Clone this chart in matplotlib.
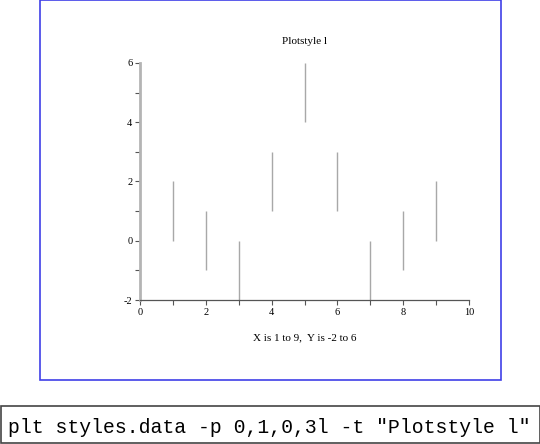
import matplotlib
matplotlib.use("Agg")
import matplotlib.pyplot as plt
import matplotlib.patches as patches

plt.rcParams["axes.unicode_minus"] = False

# data: each x has a vertical segment from y_low to y_high
x_vals = [1, 2, 3, 4, 5, 6, 7, 8, 9]
y_low = [0, -1, -2, 1, 4, 1, -2, -1, 0]
y_high = [2, 1, 0, 3, 6, 3, 0, 1, 2]

title = "Plotstyle l"
xlabel = "X is 1 to 9,  Y is -2 to 6"
command = 'plt styles.data -p 0,1,0,3l -t "Plotstyle l"'

W, H = 540, 444
fig = plt.figure(figsize=(W / 100, H / 100), dpi=100)

def px(x0, y0, x1, y1):
    # pixel box -> figure fraction [left, bottom, width, height]
    return [x0 / W, 1 - y1 / H, (x1 - x0) / W, (y1 - y0) / H]

# blue frame around the plot
frame = patches.Rectangle((39.5 / W, 1 - 380 / H), 461 / W, 379.5 / H,
                          transform=fig.transFigure, fill=False,
                          edgecolor="#3f3fe8", linewidth=1.2)
fig.patches.append(frame)

ax = fig.add_axes(px(140, 63, 469, 300))
ax.vlines(x_vals, y_low, y_high, colors="#a8a8a8", linewidth=1)

ax.set_xlim(0, 10)
ax.set_ylim(-2, 6)
ax.set_xticks(range(0, 11, 2))
ax.set_xticks(range(1, 10, 2), minor=True)
ax.set_yticks(range(-2, 7, 2))
ax.set_yticks(range(-1, 6, 2), minor=True)

for s in ["top", "right"]:
    ax.spines[s].set_visible(False)
ax.spines["left"].set_color("#b4b4b4")
ax.spines["left"].set_linewidth(2)
ax.spines["bottom"].set_color("#555555")
ax.spines["bottom"].set_linewidth(0.9)

ax.tick_params(which="both", direction="out", length=3.5, width=0.8,
               color="#555555", labelsize=7.5, pad=2)
for lab in ax.get_xticklabels() + ax.get_yticklabels():
    lab.set_family("Liberation Serif")

ax.text(0.5, 1.09, title, transform=ax.transAxes, ha="center", va="center",
        family="Liberation Serif", fontsize=8)
ax.text(0.5, -0.16, xlabel, transform=ax.transAxes, ha="center", va="center",
        family="Liberation Serif", fontsize=8)

# command box at the bottom
cbox = patches.Rectangle((0.5 / W, 1 - 443 / H), 539 / W, 37 / H,
                         transform=fig.transFigure, fill=False,
                         edgecolor="#444444", linewidth=1.2)
fig.patches.append(cbox)
fig.text(8 / W, 1 - 427 / H, command, ha="left", va="center",
         family="Liberation Mono", fontsize=14.2)

fig.savefig("out.png", dpi=100)
